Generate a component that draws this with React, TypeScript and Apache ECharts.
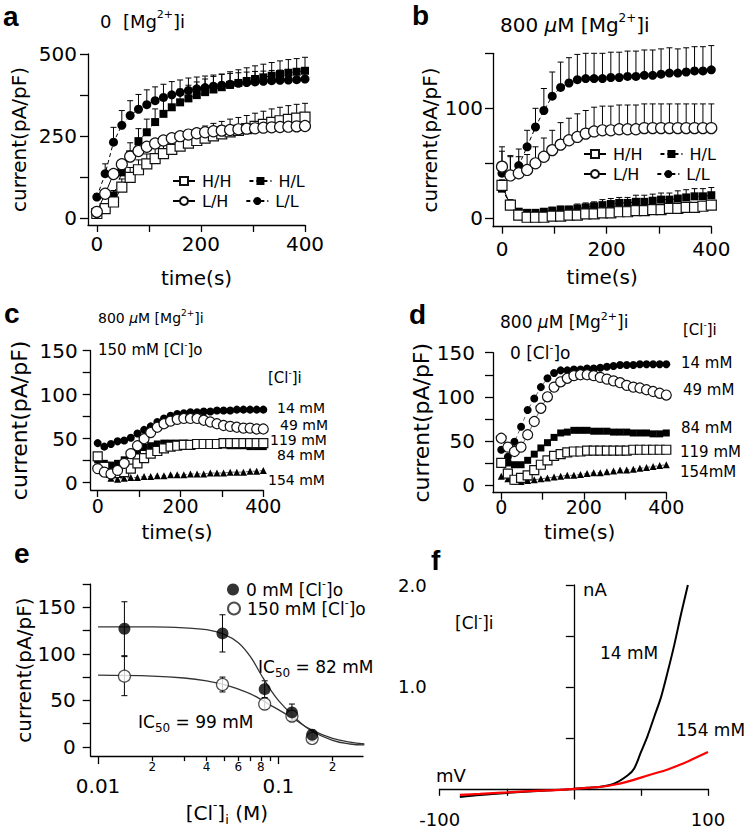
import React, { useEffect, useRef } from 'react';
import * as echarts from 'echarts';

const FONT = '"DejaVu Sans", "Liberation Sans", Arial, sans-serif';

// ---------- shared time base (s) ----------
const time = [0, 16, 32, 48, 64, 80, 96, 112, 128, 144, 160, 176, 192, 208, 224, 240, 256, 272, 288, 304, 320, 336, 352, 368, 384, 400];
const timeTicks = [0, 100, 200, 300, 400];
const timeLabels = [0, 200, 400];

// ---------- panel a : 0 [Mg2+]i ----------
const aHH = [15, 30, 50, 95, 125, 148, 166, 182, 197, 210, 220, 229, 237, 244, 251, 257, 263, 268, 273, 280, 286, 292, 297, 301, 305, 308];
const aHL = [15, 30, 70, 140, 195, 235, 262, 293, 318, 338, 353, 365, 375, 384, 392, 399, 406, 412, 418, 424, 429, 434, 439, 443, 446, 449];
const aLH = [20, 75, 135, 165, 188, 205, 218, 228, 237, 244, 250, 255, 259, 262, 265, 267, 269, 271, 273, 274, 276, 277, 278, 279, 280, 281];
const aLL = [65, 136, 232, 283, 313, 332, 346, 358, 368, 376, 383, 389, 394, 398, 402, 405, 408, 411, 413, 415, 417, 419, 420, 421, 422, 424];
const aHLErr = [5, 8, 15, 25, 35, 38, 40, 40, 40, 40, 40, 40, 40, 40, 40, 40, 40, 40, 40, 40, 40, 40, 40, 40, 40, 41];
const aLLErr = [10, 30, 45, 45, 45, 45, 45, 42, 40, 40, 38, 38, 36, 35, 34, 33, 33, 32, 32, 32, 31, 31, 31, 30, 30, 30];
const aHHErr = [10, 15, 20, 25, 30, 30, 30, 32, 33, 34, 35, 35, 36, 37, 38, 38, 39, 39, 40, 40, 40, 41, 41, 42, 42, 42];
const aYTicks = [0, 125, 250, 375, 500];
const aYLabels = [0, 250, 500];

// ---------- panel b : 800 uM [Mg2+]i ----------
const bHH = [30, 12, 3, 1, 1, 1, 2, 2, 3, 3, 4, 4, 5, 5, 6, 6, 7, 7, 8, 8, 9, 9, 10, 10, 11, 12];
const bHL = [27, 12, 6, 5, 5, 6, 7, 8, 8, 9, 10, 11, 12, 13, 14, 14, 15, 15, 16, 17, 17, 18, 19, 20, 20, 21];
const bLH = [47, 39, 41, 44, 50, 56, 62, 67, 71, 74, 77, 79, 80, 80, 81, 81, 81, 82, 82, 82, 82, 82, 82, 82, 82, 82];
const bLL = [41, 39, 48, 65, 83, 98, 111, 119, 123, 126, 127, 127, 127, 128, 128, 129, 129, 130, 130, 131, 132, 132, 133, 134, 134, 135];
const bLLErr = [20, 18, 15, 15, 17, 20, 22, 23, 23, 23, 23, 23, 23, 23, 23, 23, 23, 23, 23, 23, 23, 22, 22, 22, 22, 22];
const bLHErr = [18, 17, 15, 14, 15, 17, 18, 20, 20, 21, 21, 22, 22, 22, 22, 22, 22, 22, 22, 22, 22, 22, 22, 22, 22, 22];
const bHLErr = [8, 5, 3, 2, 2, 2, 3, 3, 3, 4, 4, 4, 5, 5, 5, 5, 6, 6, 6, 6, 6, 7, 7, 7, 7, 7];
const bYTicks = [0, 50, 100, 150];
const bYLabels = [0, 100];

// ---------- panel c : 150 mM [Cl-]o ----------
const c14 = [45, 41, 44, 47, 48, 51, 56, 60, 64, 69, 73, 76, 78, 79, 80, 80, 81, 81, 82, 82, 82, 83, 83, 83, 83, 83];
const c49 = [16, 12, 10, 14, 22, 33, 42, 50, 57, 63, 67, 70, 72, 73, 73, 73, 71, 69, 67, 65, 64, 63, 62, 62, 61, 61];
const c84 = [26, 22, 20, 22, 26, 31, 36, 40, 42, 44, 45, 45, 45, 45, 44, 44, 44, 43, 43, 43, 42, 42, 42, 41, 41, 41];
const c119 = [30, 18, 11, 11, 12, 16, 22, 28, 33, 36, 39, 41, 42, 43, 43, 44, 44, 44, 44, 45, 45, 45, 45, 45, 45, 45];
const c154 = [20, 11, 5, 4, 5, 6, 6, 7, 7, 8, 8, 9, 9, 9, 10, 10, 10, 11, 11, 11, 12, 12, 12, 13, 13, 14];
const cdYTicks = [0, 25, 50, 75, 100, 125, 150];
const cdYLabels = [0, 50, 100, 150];

// ---------- panel d : 0 [Cl-]o ----------
const d14 = [40, 32, 49, 66, 85, 98, 111, 121, 127, 130, 130, 131, 131, 132, 132, 133, 134, 135, 136, 136, 136, 137, 137, 137, 137, 137];
const d49 = [53, 43, 38, 43, 57, 72, 87, 100, 111, 117, 121, 124, 125, 125, 124, 122, 120, 118, 116, 113, 111, 110, 108, 106, 104, 102];
const d84 = [25, 25, 23, 23, 28, 35, 42, 48, 54, 59, 60, 62, 62, 62, 61, 61, 61, 60, 60, 60, 59, 59, 59, 58, 58, 59];
const d119 = [25, 13, 6, 8, 11, 17, 23, 28, 33, 35, 37, 38, 38, 39, 39, 39, 39, 39, 39, 39, 40, 40, 40, 40, 40, 40];
const d154 = [10, 7, 4, 4, 5, 6, 7, 8, 9, 10, 11, 11, 12, 13, 14, 14, 15, 16, 17, 17, 18, 19, 20, 21, 22, 23];

// ---------- panel e : dose response ----------
const eConc = [0.014, 0.049, 0.084, 0.119, 0.154];
const e0Mean = [127, 122, 62, 37, 13];
const e0Err = [29, 20, 9, 9, 5];
const e150Mean = [76, 67, 46, 33, 9];
const e150Err = [21, 8, 6, 6, 3];
const eFitX = [0.01, 0.02, 0.03, 0.04, 0.05, 0.06, 0.07, 0.08, 0.09, 0.1, 0.12, 0.15, 0.2, 0.25, 0.3];
const e0Fit = [129, 129, 128, 126, 121, 112, 97, 78, 62, 50, 34, 18, 7, 3, 2];
const e150Fit = [77, 76, 74, 71, 67, 62, 57, 51, 45, 40, 31, 19, 9, 5, 3];
const eYTicks = [0, 25, 50, 75, 100, 125, 150, 175];
const eYLabels = [0, 50, 100, 150];
const eMajorX = [0.01, 0.1];
const eMinorTicks = [0.02, 0.03, 0.04, 0.05, 0.06, 0.07, 0.08, 0.09, 0.2, 0.3];
const eMinorLabels = [0.02, 0.04, 0.06, 0.08, 0.2];

// ---------- panel f : I-V ----------
const fV14 = [-85, -70, -50, -30, -10, 0, 10, 20, 30, 40, 45, 50, 55, 60, 65, 70, 75, 80, 85];
const fI14 = [-0.08, -0.06, -0.04, -0.025, -0.01, 0, 0.01, 0.02, 0.05, 0.13, 0.2, 0.36, 0.52, 0.71, 0.9, 1.15, 1.42, 1.72, 2.0];
const fV154 = [-85, -70, -50, -30, -10, 0, 10, 20, 30, 40, 50, 60, 70, 80, 90, 100];
const fI154 = [-0.06, -0.05, -0.035, -0.02, -0.01, 0, 0.01, 0.02, 0.04, 0.07, 0.11, 0.15, 0.19, 0.24, 0.3, 0.36];
const fXTicks = [-100, -50, 50, 100];
const fXLabels = [-100, 100];
const fYTicks = [0.5, 1, 1.5, 2];
const fYLabels = [1, 2];

// ---------- helpers ----------
function rich(size: number) {
  const s = Math.round(size * 0.62);
  return {
    sup: { fontSize: s, fontFamily: FONT, lineHeight: s, verticalAlign: 'top', color: '#000', fill: '#000' },
    sub: { fontSize: s + 1, fontFamily: FONT, lineHeight: s + 5, verticalAlign: 'bottom', color: '#000', fill: '#000' },
    it: { fontSize: size, fontFamily: FONT, fontStyle: 'italic', color: '#000', fill: '#000' },
  };
}

function txt(x: number, y: number, text: string, size: number, bold = false) {
  const hasRich = text.indexOf('{') >= 0;
  const style: any = {
    text,
    fontSize: size,
    fontFamily: bold ? '"Liberation Sans", Arial, sans-serif' : FONT,
    fontWeight: bold ? 'bold' : 'normal',
    fill: '#000',
    align: 'left',
    textAlign: 'left',
    verticalAlign: 'middle',
    textVerticalAlign: 'middle',
  };
  if (hasRich) {
    style.lineHeight = Math.round(size * 1.35);
    style.rich = rich(size);
  }
  return { type: 'text', x, y, silent: true, style };
}

function lineS(name: string, xi: number, xs: number[], ys: number[], symbol: string, size: number, filled: boolean, dashed: boolean, lw = 1) {
  return {
    type: 'line',
    name,
    xAxisIndex: xi,
    yAxisIndex: xi,
    data: xs.map((x, i) => [x, ys[i]]),
    symbol,
    symbolSize: size,
    showAllSymbol: true,
    z: filled ? 3 : 4,
    itemStyle: filled
      ? { color: '#000', borderColor: '#000', borderWidth: 0 }
      : { color: '#fff', borderColor: '#111', borderWidth: 1.2 },
    lineStyle: { color: '#000', width: lw, type: dashed ? [4, 3] : 'solid' },
    emphasis: { disabled: true },
  };
}

function errS(xi: number, data: number[][], both: boolean) {
  return {
    type: 'custom',
    xAxisIndex: xi,
    yAxisIndex: xi,
    z: 2,
    silent: true,
    data,
    renderItem: (params: any, api: any) => {
      const x = api.value(0);
      const lo = api.value(1);
      const hi = api.value(2);
      const p0 = api.coord([x, lo]);
      const p1 = api.coord([x, hi]);
      const w = 3;
      const st = { stroke: '#000', lineWidth: 1 };
      const children: any[] = [
        { type: 'line', shape: { x1: p0[0], y1: p0[1], x2: p1[0], y2: p1[1] }, style: st },
        { type: 'line', shape: { x1: p1[0] - w, y1: p1[1], x2: p1[0] + w, y2: p1[1] }, style: st },
      ];
      if (both) children.push({ type: 'line', shape: { x1: p0[0] - w, y1: p0[1], x2: p0[0] + w, y2: p0[1] }, style: st });
      return { type: 'group', children };
    },
  };
}

const upErr = (xs: number[], m: number[], e: number[]) => xs.map((x, i) => [x, m[i], m[i] + e[i]]);
const symErr = (xs: number[], m: number[], e: number[]) => xs.map((x, i) => [x, m[i] - e[i], m[i] + e[i]]);

const lineStyleAx = { color: '#000', width: 1.3 };

function xAx(gridIndex: number, min: number, max: number, labelSize: number, margin: number, nameGap: number) {
  return {
    gridIndex,
    type: 'value',
    min,
    max,
    splitLine: { show: false },
    axisLine: { onZero: false, lineStyle: lineStyleAx },
    axisTick: { length: 7, lineStyle: lineStyleAx, customValues: timeTicks },
    axisLabel: { color: '#000', fontSize: labelSize, fontFamily: FONT, margin, customValues: timeLabels },
    name: 'time(s)',
    nameLocation: 'middle',
    nameGap,
    nameTextStyle: { color: '#000', fontSize: 20, fontFamily: FONT, verticalAlign: 'top' },
  };
}

function yAx(gridIndex: number, min: number, max: number, ticks: number[], labels: number[], margin: number, nameGap: number, nameSize: number) {
  return {
    gridIndex,
    type: 'value',
    min,
    max,
    splitLine: { show: false },
    axisLine: { onZero: false, lineStyle: lineStyleAx },
    axisTick: { length: 8, lineStyle: lineStyleAx, customValues: ticks },
    axisLabel: { color: '#000', fontSize: 20, fontFamily: FONT, margin, customValues: labels },
    name: 'current(pA/pF)',
    nameLocation: 'middle',
    nameGap,
    nameTextStyle: { color: '#000', fontSize: nameSize, fontFamily: FONT },
  };
}

function legendRow(data: string[], left: number, top: number, itemWidth: number, itemHeight: number, itemGap: number, extra: any = {}) {
  return {
    data,
    left,
    top,
    orient: 'horizontal',
    itemWidth,
    itemHeight,
    itemGap,
    selectedMode: false,
    padding: 0,
    textStyle: { color: '#000', fontSize: 16, fontFamily: FONT, padding: [0, 0, 0, 2] },
    ...extra,
  };
}

export default function App() {
  const ref = useRef<HTMLDivElement>(null);

  useEffect(() => {
    document.body.style.margin = '0';
    const chart = echarts.init(ref.current as HTMLDivElement, undefined, { renderer: 'svg' });

    const eLegendText = { color: '#000', fontSize: 17, fontFamily: FONT, lineHeight: 23, padding: [0, 0, 0, 2], rich: rich(17) };

    const option: any = {
      animation: false,
      backgroundColor: '#fff',
      grid: [
        { left: 88, top: 54, width: 217, height: 171 },
        { left: 493, top: 53.3, width: 218.3, height: 173.4 },
        { left: 90.7, top: 350.7, width: 172.6, height: 139.3 },
        { left: 493, top: 352.7, width: 173.3, height: 140 },
        { left: 90.7, top: 584.1, width: 272.3, height: 172 },
        { left: 439.7, top: 585, width: 268.3, height: 215.25 },
      ],
      xAxis: [
        xAx(0, -17, 400, 20, 9, 43),
        xAx(1, -17.2, 400, 20, 12, 40),
        xAx(2, -16.9, 400, 19, 6, 32),
        xAx(3, -20, 400, 19, 5, 29),
        {
          gridIndex: 4,
          type: 'log',
          min: 0.0091,
          max: 0.295,
          splitLine: { show: false },
          axisLine: { onZero: false, lineStyle: lineStyleAx },
          axisTick: { length: 8, lineStyle: lineStyleAx, customValues: eMajorX },
          axisLabel: {
            color: '#000', fontSize: 20, fontFamily: FONT, margin: 20, customValues: eMajorX,
            formatter: (v: number) => (v < 0.05 ? '0.01' : '0.1'),
          },
          name: '[Cl{sup|-}]{sub|i} (M)',
          nameLocation: 'middle',
          nameGap: 43,
          nameTextStyle: { color: '#000', fontSize: 20, fontFamily: FONT, lineHeight: 27, verticalAlign: 'top', rich: rich(20) },
        },
        {
          gridIndex: 5,
          type: 'value',
          min: -100,
          max: 100,
          splitLine: { show: false },
          axisLine: { onZero: true, lineStyle: lineStyleAx },
          axisTick: { length: 7, lineStyle: lineStyleAx, customValues: fXTicks },
          axisLabel: { color: '#000', fontSize: 18, fontFamily: FONT, margin: 11, customValues: fXLabels },
        },
        {
          gridIndex: 4,
          type: 'log',
          min: 0.0091,
          max: 0.295,
          position: 'bottom',
          splitLine: { show: false },
          axisLine: { show: false, onZero: false },
          axisTick: { length: 5, lineStyle: lineStyleAx, customValues: eMinorTicks },
          axisLabel: {
            color: '#000', fontSize: 12, fontFamily: FONT, margin: 5, customValues: eMinorLabels,
            formatter: (v: number) => String(Math.round(v / Math.pow(10, Math.floor(Math.log10(v) + 1e-9)))),
          },
        },
      ],
      yAxis: [
        yAx(0, -20, 500, aYTicks, aYLabels, 11, 59, 20),
        yAx(1, -7.6, 150, bYTicks, bYLabels, 10, 53, 20),
        yAx(2, -8.3, 150, cdYTicks, cdYLabels, 13, 60, 22),
        yAx(3, -8.7, 150, cdYTicks, cdYLabels, 18, 52, 22),
        yAx(4, -10, 175, eYTicks, eYLabels, 15, 57, 20),
        {
          gridIndex: 5,
          type: 'value',
          min: -0.1,
          max: 2.0,
          splitLine: { show: false },
          axisLine: { onZero: true, lineStyle: lineStyleAx },
          axisTick: { length: 8, lineStyle: lineStyleAx, customValues: fYTicks },
          axisLabel: { color: '#000', fontSize: 18, fontFamily: FONT, margin: 13, customValues: fYLabels, formatter: (v: number) => v.toFixed(1) },
        },
      ],
      legend: [
        legendRow(['H/H', 'H/L'], 172, 173, 22, 10, 17),
        legendRow(['L/H', 'L/L'], 172, 193, 22, 10, 17),
        legendRow(['H/H', 'H/L'], 583, 146, 22, 10, 17),
        legendRow(['L/H', 'L/L'], 583, 166, 22, 10, 17),
        legendRow(['0 mM'], 227, 578, 12, 12, 10, {
          formatter: (n: string) => n + ' [Cl{sup|-}]o',
          textStyle: eLegendText,
        }),
        legendRow(['150 mM'], 227, 597, 12, 12, 10, {
          formatter: (n: string) => n + ' [Cl{sup|-}]o',
          textStyle: eLegendText,
        }),
      ],
      series: [
        // a
        errS(0, upErr(time, aHH, aHHErr), false),
        errS(0, upErr(time, aHL, aHLErr), false),
        errS(0, upErr(time, aLL, aLLErr), false),
        lineS('H/H', 0, time, aHH, 'rect', 10, false, false),
        lineS('H/L', 0, time, aHL, 'rect', 8, true, true),
        lineS('L/H', 0, time, aLH, 'circle', 11, false, false),
        lineS('L/L', 0, time, aLL, 'circle', 9, true, true),
        // b
        errS(1, upErr(time, bHL, bHLErr), false),
        errS(1, upErr(time, bLH, bLHErr), false),
        errS(1, upErr(time, bLL, bLLErr), false),
        lineS('H/H', 1, time, bHH, 'rect', 10, false, false),
        lineS('H/L', 1, time, bHL, 'rect', 8, true, true),
        lineS('L/H', 1, time, bLH, 'circle', 11, false, false),
        lineS('L/L', 1, time, bLL, 'circle', 9, true, true),
        // c
        lineS('c 154 mM', 2, time, c154, 'triangle', 7, true, true, 0.6),
        lineS('c 119 mM', 2, time, c119, 'rect', 9, false, false, 0.6),
        lineS('c 84 mM', 2, time, c84, 'rect', 7, true, true, 0.6),
        lineS('c 49 mM', 2, time, c49, 'circle', 10, false, false, 0.6),
        lineS('c 14 mM', 2, time, c14, 'circle', 8, true, true, 0.6),
        // d
        lineS('d 154 mM', 3, time, d154, 'triangle', 7, true, true, 0.6),
        lineS('d 119 mM', 3, time, d119, 'rect', 9, false, false, 0.6),
        lineS('d 84 mM', 3, time, d84, 'rect', 7, true, true, 0.6),
        lineS('d 49 mM', 3, time, d49, 'circle', 10, false, false, 0.6),
        lineS('d 14 mM', 3, time, d14, 'circle', 8, true, true, 0.6),
        // e
        {
          type: 'line', name: 'fit0', xAxisIndex: 4, yAxisIndex: 4, smooth: 0.4, symbol: 'none', z: 2,
          data: eFitX.map((x, i) => [x, e0Fit[i]]), lineStyle: { color: '#333', width: 1.3 },
        },
        {
          type: 'line', name: 'fit150', xAxisIndex: 4, yAxisIndex: 4, smooth: 0.4, symbol: 'none', z: 2,
          data: eFitX.map((x, i) => [x, e150Fit[i]]), lineStyle: { color: '#333', width: 1.3 },
        },
        errS(4, symErr(eConc, e0Mean, e0Err), true),
        errS(4, symErr(eConc, e150Mean, e150Err), true),
        {
          type: 'scatter', name: '150 mM', xAxisIndex: 4, yAxisIndex: 4, symbol: 'circle', symbolSize: 12, z: 4,
          data: eConc.map((x, i) => [x, e150Mean[i]]),
          itemStyle: { color: '#fff', borderColor: '#222', borderWidth: 1.2 },
        },
        {
          type: 'scatter', name: '0 mM', xAxisIndex: 4, yAxisIndex: 4, symbol: 'circle', symbolSize: 12, z: 5,
          data: eConc.map((x, i) => [x, e0Mean[i]]),
          itemStyle: { color: '#000' },
        },
        // f
        {
          type: 'line', name: 'f 14 mM', xAxisIndex: 5, yAxisIndex: 5, smooth: 0.3, symbol: 'none', z: 3,
          data: fV14.map((x, i) => [x, fI14[i]]), lineStyle: { color: '#000', width: 2 },
        },
        {
          type: 'line', name: 'f 154 mM', xAxisIndex: 5, yAxisIndex: 5, smooth: 0.3, symbol: 'none', z: 4,
          data: fV154.map((x, i) => [x, fI154[i]]), lineStyle: { color: '#ff0000', width: 2.2 },
        },
      ],
      graphic: [
        // panel letters
        txt(3, 16, 'a', 28, true),
        txt(412, 15, 'b', 28, true),
        txt(4, 313, 'c', 28, true),
        txt(409, 314, 'd', 28, true),
        txt(14, 553, 'e', 28, true),
        txt(431, 560, 'f', 28, true),
        // panel titles
        txt(100, 21, '0  [Mg{sup|2+}]i', 18),
        txt(500, 25, '800 {it|μ}M [Mg{sup|2+}]i', 20),
        txt(98, 318, '800 {it|μ}M [Mg{sup|2+}]i', 14),
        txt(98, 350, '150 mM [Cl{sup|-}]o', 15),
        txt(500, 322, '800 {it|μ}M [Mg{sup|2+}]i', 17),
        txt(510, 353, '0 [Cl{sup|-}]o', 17),
        // c labels
        txt(268, 378, '[Cl{sup|-}]i', 15),
        txt(277, 408, '14 mM', 14),
        txt(280, 425, '49 mM', 14),
        txt(270, 440, '119 mM', 14),
        txt(277, 455, '84 mM', 14),
        txt(268, 480, '154 mM', 14),
        // d labels
        txt(683, 330, '[Cl{sup|-}]i', 15),
        txt(681, 363, '14 mM', 15),
        txt(683, 390, '49 mM', 15),
        txt(681, 428, '84 mM', 15),
        txt(680, 452, '119 mM', 15),
        txt(680, 472, '154mM', 15),
        // e labels
        txt(258, 667, 'IC{sub|50} = 82 mM', 17),
        txt(138, 722, 'IC{sub|50} = 99 mM', 17),
        // f labels
        txt(455, 623, '[Cl{sup|-}]i', 17),
        txt(600, 653, '14 mM', 17),
        txt(676, 730, '154 mM', 17),
        txt(583, 589, 'nA', 18),
        txt(436, 775, 'mV', 18),
      ],
    };

    chart.setOption(option);
    return () => chart.dispose();
  }, []);

  return <div ref={ref} style={{ position: 'absolute', left: 0, top: 0, width: 756, height: 828 }} />;
}
